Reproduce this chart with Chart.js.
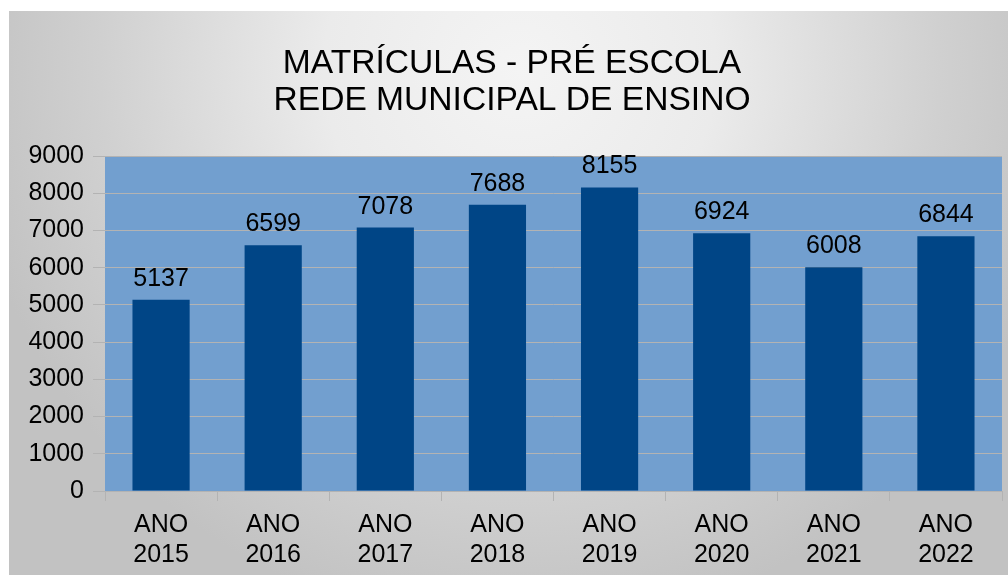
<!DOCTYPE html>
<html>
<head>
<meta charset="utf-8">
<script src="https://cdn.jsdelivr.net/npm/chart.js@4/dist/chart.umd.min.js"></script>
<style>
html,body{margin:0;padding:0;background:#fff;}
#wrap{width:1008px;height:575px;position:relative;}
</style>
</head>
<body>
<div id="wrap"><canvas id="c" width="1008" height="575"></canvas></div>
<script>
const titleLines = ["MATRÍCULAS - PRÉ ESCOLA", "REDE MUNICIPAL DE ENSINO"];
const categories = [["ANO","2015"],["ANO","2016"],["ANO","2017"],["ANO","2018"],["ANO","2019"],["ANO","2020"],["ANO","2021"],["ANO","2022"]];
const values = [5137, 6599, 7078, 7688, 8155, 6924, 6008, 6844];
const yMin = 0, yMax = 9000, yStep = 1000;

const FONT = "'Liberation Sans', Arial, sans-serif";

const bgPlugin = {
  id: 'bg',
  beforeDraw(chart) {
    const ctx = chart.ctx;
    const W = chart.width, H = chart.height;
    ctx.save();
    const g = ctx.createRadialGradient(520, 70, 0, 520, 70, 560);
    g.addColorStop(0, '#f4f4f4');
    g.addColorStop(0.35, '#ebebeb');
    g.addColorStop(0.75, '#d0d0d0');
    g.addColorStop(1, '#c2c2c2');
    ctx.fillStyle = g;
    ctx.fillRect(9, 11, W - 9, H - 11);
    const a = chart.chartArea;
    ctx.fillStyle = '#729fcf';
    ctx.fillRect(a.left, a.top, a.right - a.left, a.bottom - a.top);
    // title
    ctx.font = "33.6px " + FONT;
    ctx.fillStyle = '#000';
    ctx.textAlign = 'center';
    ctx.textBaseline = 'alphabetic';
    ctx.fillText(titleLines[0], 512, 73);
    ctx.fillText(titleLines[1], 512, 110);
    ctx.restore();
  }
};

const labelPlugin = {
  id: 'vals',
  afterDatasetsDraw(chart) {
    const ctx = chart.ctx;
    const meta = chart.getDatasetMeta(0);
    ctx.save();
    ctx.font = "25px " + FONT;
    ctx.fillStyle = '#000';
    ctx.textAlign = 'center';
    ctx.textBaseline = 'alphabetic';
    meta.data.forEach((bar, i) => {
      ctx.fillText(String(values[i]), bar.x, bar.y - 14);
    });
    ctx.restore();
  }
};

new Chart(document.getElementById('c'), {
  type: 'bar',
  data: {
    labels: categories,
    datasets: [{
      data: values,
      backgroundColor: '#004586',
      borderWidth: 0,
      categoryPercentage: 1,
      barPercentage: 0.51
    }]
  },
  options: {
    responsive: false,
    animation: false,
    devicePixelRatio: 1,
    layout: { padding: { left: 9, right: 6, top: 156, bottom: 0 } },
    plugins: {
      legend: { display: false },
      tooltip: { enabled: false },
      title: { display: false }
    },
    scales: {
      x: {
        grid: { display: true, drawOnChartArea: false, drawTicks: true, tickLength: 10, color: '#b3b3b3', offset: true },
        border: { display: false },
        ticks: { color: '#000', font: { family: FONT, size: 25, lineHeight: 1.2 }, padding: 9, maxRotation: 0, autoSkip: false },
        afterFit(s) { s.height = 84; }
      },
      y: {
        min: yMin, max: yMax,
        grid: { color: '#b3b3b3', tickLength: 12, drawTicks: true },
        border: { display: false },
        ticks: { stepSize: yStep, color: '#000', font: { family: FONT, size: 25 }, padding: 9, callback: v => String(v) },
        afterFit(s) { s.width = 96; }
      }
    }
  },
  plugins: [bgPlugin, labelPlugin]
});
</script>
</body>
</html>
